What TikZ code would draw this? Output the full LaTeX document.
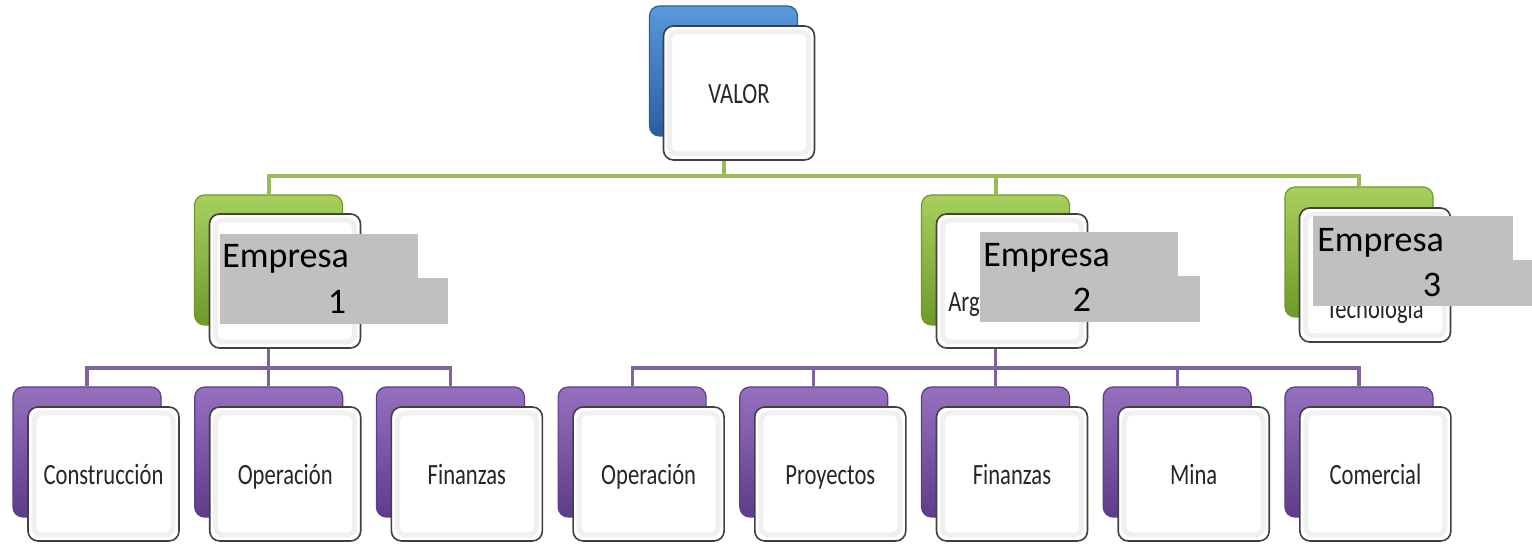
\documentclass[tikz,border=0pt]{standalone}
\usepackage{fontspec}
\setmainfont{Carlito}
\usepackage{graphicx}
\pgfdeclarelayer{bg}
\pgfsetlayers{bg,main}
\newcommand{\vstr}[1]{\scalebox{1}[1.3]{#1}}
\definecolor{bluelt}{HTML}{5A98DC}
\definecolor{bluedk}{HTML}{2A5E9E}
\definecolor{greenlt}{HTML}{A8CF5E}
\definecolor{greendk}{HTML}{6E9A2A}
\definecolor{purplt}{HTML}{9570BE}
\definecolor{purdk}{HTML}{5E3C8A}
\definecolor{gline}{HTML}{9BBB59}
\definecolor{pline}{HTML}{8064A2}
\definecolor{graycov}{RGB}{192,192,192}
\begin{document}
\begin{tikzpicture}[x=0.5pt,y=-0.5pt,
  backbox/.style={rectangle, rounded corners=5pt, minimum width=74pt, minimum height=65pt, inner sep=0pt, line width=0.6pt},
  blueback/.style={backbox, draw=bluedk, top color=bluelt, bottom color=bluedk},
  greenback/.style={backbox, draw=greendk, top color=greenlt, bottom color=greendk},
  purback/.style={backbox, draw=purdk, top color=purplt, bottom color=purdk},
  frontbox/.style={rectangle, rounded corners=5pt, minimum width=75.5pt, minimum height=67pt, inner sep=0pt,
    draw=black!75, line width=0.8pt, fill=white,
    path picture={\draw[black!6, line width=2.5pt, rounded corners=4pt]
      ([shift={(3pt,3pt)}]path picture bounding box.south west) rectangle
      ([shift={(-3pt,-3pt)}]path picture bounding box.north east);}},
  txt/.style={font=\fontsize{11.3}{13}\selectfont, text=black!85},
  ctxt/.style={txt, text height=13pt, text depth=2pt},
  big/.style={font=\fontsize{18}{21}\selectfont, text=black, inner sep=0pt},
  grayrect/.style={fill=graycov, draw=none, inner sep=0pt},
  gconn/.style={draw=gline, line width=2pt},
  pconn/.style={draw=pline, line width=1.6pt},
]
\useasboundingbox (0,0) rectangle (1532,544);

% top
\node[blueback] (vb) at (723.5,71) {};
\node[frontbox, ctxt] (vf) at (739,93) {\vstr{VALOR}};

% level 2
\node[greenback] (e1b) at (268.5,260) {};
\node[frontbox] (e1f) at (285,281) {};
\node[greenback] (e2b) at (995.5,260) {};
\node[frontbox] (e2f) at (1012,281) {};
\node[greenback] (e3b) at (1359,252) {};
\node[frontbox] (e3f) at (1375,275) {};

% bottom level
\foreach \k/\t in {0/Construcción,1/Operación,2/Finanzas,3/Operación,4/Proyectos,5/Finanzas,6/Mina,7/Comercial}{
  \node[purback] (b\k) at ({87+181.7*\k},452) {};
  \node[frontbox, ctxt] (f\k) at ({103.5+181.7*\k},474) {\vstr{\t}};
}

% connectors
\begin{pgfonlayer}{bg}
\coordinate (gj) at (723.5,176);
\draw[gconn] (vb.south) -- (gj);
\draw[gconn] (gj) -| (e1b.north);
\draw[gconn] (gj) -| (e2b.north);
\draw[gconn] (gj) -| (e3b.north);
\coordinate (pj1) at (268.5,368);
\draw[pconn] (e1b.south) -- (pj1);
\draw[pconn] (pj1) -| (b0.north);
\draw[pconn] (pj1) -| (b1.north);
\draw[pconn] (pj1) -| (b2.north);
\coordinate (pj2) at (995.5,368);
\draw[pconn] (e2b.south) -- (pj2);
\foreach \k in {3,4,5,6,7}{\draw[pconn] (pj2) -| (b\k.north);}
\end{pgfonlayer}

% partly hidden texts
\node[txt, anchor=base west, inner sep=0pt] (arg) at (948,312) {\vstr{Argentina}};
\node[txt, anchor=base, inner sep=0pt] (tec) at (1375,319) {\vstr{Tecnología}};

% gray covers
\node[grayrect, minimum width=99pt, minimum height=22pt] (g1a) at (319,256) {};
\node[grayrect, minimum width=114pt, minimum height=23pt] (g1b) at (334,301) {};
\node[grayrect, minimum width=99pt, minimum height=22pt] (g2a) at (1079,254) {};
\node[grayrect, minimum width=110pt, minimum height=23pt] (g2b) at (1090,299) {};
\node[grayrect, minimum width=100pt, minimum height=22pt] (g3a) at (1413,238) {};
\node[grayrect, minimum width=109.5pt, minimum height=23pt] (g3b) at (1422.5,283) {};

\node[big, anchor=base west] (t1a) at (222,268) {Empresa};
\node[big, anchor=base] (t1b) at (337,314) {1};
\node[big, anchor=base west] (t2a) at (983,267) {Empresa};
\node[big, anchor=base] (t2b) at (1082,312) {2};
\node[big, anchor=base west] (t3a) at (1317,252) {Empresa};
\node[big, anchor=base] (t3b) at (1432,297) {3};
\end{tikzpicture}
\end{document}
